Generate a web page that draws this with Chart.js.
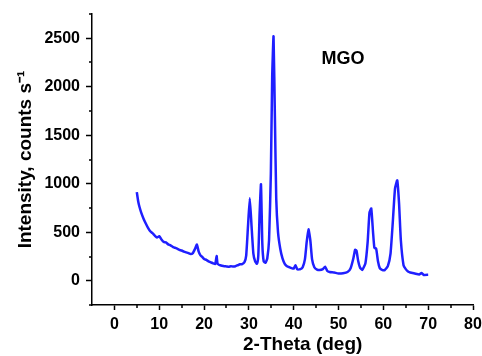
<!DOCTYPE html>
<html>
<head>
<meta charset="utf-8">
<script src="https://cdn.jsdelivr.net/npm/chart.js@4"></script>
<style>
  html, body { margin: 0; padding: 0; background: #fff; }
  #wrap { width: 482px; height: 356px; }
</style>
</head>
<body>
<div id="wrap"><canvas id="xrd"></canvas></div>
<script>
// XRD pattern of MGO
const twoTheta = [
  5, 5.3, 5.6, 6, 6.5, 7, 7.5, 8, 8.5, 9, 9.5, 10, 10.5, 11, 11.5, 12, 12.5, 13, 13.5, 14,
  14.5, 15, 15.5, 16, 16.5, 17, 17.5, 18, 18.4, 18.8, 19.2, 19.6, 20, 20.5, 21, 21.5, 22, 22.5, 22.8, 23,
  23.3, 23.6, 24, 24.5, 25, 25.5, 26, 26.5, 27, 27.5, 28, 28.5, 29, 29.4, 29.8, 30.2, 30.6, 31, 31.4, 31.8,
  32.1, 32.4, 32.7, 33, 33.3, 33.7, 34.1, 34.5, 34.9, 35.2, 35.5, 35.8, 36.1, 36.5, 37, 37.5, 38, 38.5, 39, 39.5,
  40, 40.4, 40.8, 41.5, 42, 42.5, 42.9, 43.3, 43.7, 44.1, 44.6, 45.2, 45.8, 46.5, 47, 47.5, 48, 49, 50, 51,
  52, 52.7, 53.3, 53.7, 54, 54.4, 54.8, 55.3, 56, 56.5, 56.9, 57.3, 57.7, 58, 58.4, 58.8, 59.2, 59.7, 60.3, 61,
  61.6, 62.1, 62.6, 63.1, 63.5, 63.9, 64.5, 65, 65.5, 66, 67, 68, 68.5, 69, 70
];
const intensity = [
  913, 820, 760, 700, 640, 590, 545, 510, 490, 465, 445, 460, 425, 400, 395, 375, 365, 350, 340, 330,
  318, 312, 300, 292, 285, 275, 285, 330, 373, 300, 262, 245, 225, 215, 200, 190, 180, 172, 255, 175,
  165, 160, 155, 150, 148, 145, 150, 146, 150, 160, 170, 172, 190, 260, 560, 850, 560, 280, 200, 175,
  260, 700, 995, 380, 200, 185, 230, 420, 1100, 2100, 2520, 1700, 850, 500, 330, 230, 175, 150, 140, 130,
  125, 160, 118, 120, 140, 220, 400, 530, 420, 220, 140, 115, 110, 120, 145, 100, 90, 85, 75, 78,
  90, 130, 230, 320, 310, 200, 135, 112, 180, 400, 700, 745, 500, 340, 330, 200, 130, 112, 110, 150,
  280, 600, 950, 1035, 800, 420, 160, 120, 95, 85, 75, 65, 80, 60, 62
];
const sampleLabel = 'MGO';
const xTitle = '2-Theta (deg)';
const yTitle = 'Intensity, counts s\u207B\u00B9';

Chart.defaults.font.family = '"Liberation Sans", Arial, sans-serif';
Chart.defaults.color = '#000';

const isMajorX = v => v % 10 === 0;
const isMajorY = v => v % 500 === 0;

// short minor ticks + free text (sample name, x title)
const extras = {
  id: 'extras',
  afterDraw(chart) {
    const ctx = chart.ctx;
    const xs = chart.scales.x, ys = chart.scales.y;
    ctx.save();
    ctx.strokeStyle = '#000';
    ctx.lineWidth = 1.5;
    ctx.beginPath();
    xs.ticks.forEach(t => {
      if (isMajorX(t.value) || t.value === xs.min) return;
      const px = Math.round(xs.getPixelForValue(t.value));
      ctx.moveTo(px, xs.top);
      ctx.lineTo(px, xs.top + 3);
    });
    ys.ticks.forEach(t => {
      if (isMajorY(t.value) && t.value <= 2500 && t.value >= 0) return;
      const py = Math.round(ys.getPixelForValue(t.value));
      ctx.moveTo(ys.right, py);
      ctx.lineTo(ys.right - 3, py);
    });
    ctx.stroke();

    ctx.fillStyle = '#000';
    ctx.textAlign = 'center';
    ctx.textBaseline = 'middle';
    ctx.font = 'bold 18px "Liberation Sans", Arial, sans-serif';
    ctx.fillText(sampleLabel, xs.getPixelForValue(51), ys.getPixelForValue(2290));
    ctx.font = 'bold 19px "Liberation Sans", Arial, sans-serif';
    ctx.fillText(xTitle, xs.getPixelForValue(42), 345);
    ctx.restore();
  }
};

new Chart(document.getElementById('xrd'), {
  type: 'line',
  data: {
    datasets: [{
      data: twoTheta.map((x, i) => ({ x: x, y: intensity[i] })),
      borderColor: '#1f1fff',
      borderWidth: 2.5,
      pointRadius: 0,
      tension: 0.15,
      fill: false
    }]
  },
  options: {
    responsive: true,
    maintainAspectRatio: false,
    animation: false,
    layout: { padding: { top: 14, right: 9, bottom: 0, left: 0 } },
    plugins: { legend: { display: false }, tooltip: { enabled: false } },
    scales: {
      x: {
        type: 'linear',
        min: -5,
        max: 80,
        afterFit: s => { s.height = 51; s.paddingRight = 0; s.paddingLeft = 0; },
        border: { display: true, color: '#000', width: 1.5 },
        grid: {
          drawOnChartArea: false,
          drawTicks: true,
          tickLength: 5,
          tickWidth: 1.5,
          tickColor: c => (c.tick && isMajorX(c.tick.value)) ? '#000' : 'rgba(0,0,0,0)'
        },
        ticks: {
          stepSize: 5,
          autoSkip: false,
          maxRotation: 0,
          padding: 5,
          font: { size: 16, weight: 'bold' },
          callback: v => isMajorX(v) ? v : ''
        }
      },
      y: {
        min: -250,
        max: 2750,
        afterFit: s => { s.width = 92; s.paddingTop = 0; s.paddingBottom = 0; },
        border: { display: true, color: '#000', width: 1.5 },
        grid: {
          drawOnChartArea: false,
          drawTicks: true,
          tickLength: 6,
          tickWidth: 1.5,
          tickColor: c => (c.tick && isMajorY(c.tick.value) && c.tick.value >= 0 && c.tick.value <= 2500) ? '#000' : 'rgba(0,0,0,0)'
        },
        ticks: {
          stepSize: 250,
          autoSkip: false,
          padding: 6,
          font: { size: 16, weight: 'bold' },
          callback: v => (isMajorY(v) && v >= 0 && v <= 2500) ? v : ''
        },
        title: {
          display: true,
          text: yTitle,
          font: { size: 19, weight: 'bold' },
          padding: { top: 14, bottom: 0 }
        }
      }
    }
  },
  plugins: [extras]
});
</script>
</body>
</html>
